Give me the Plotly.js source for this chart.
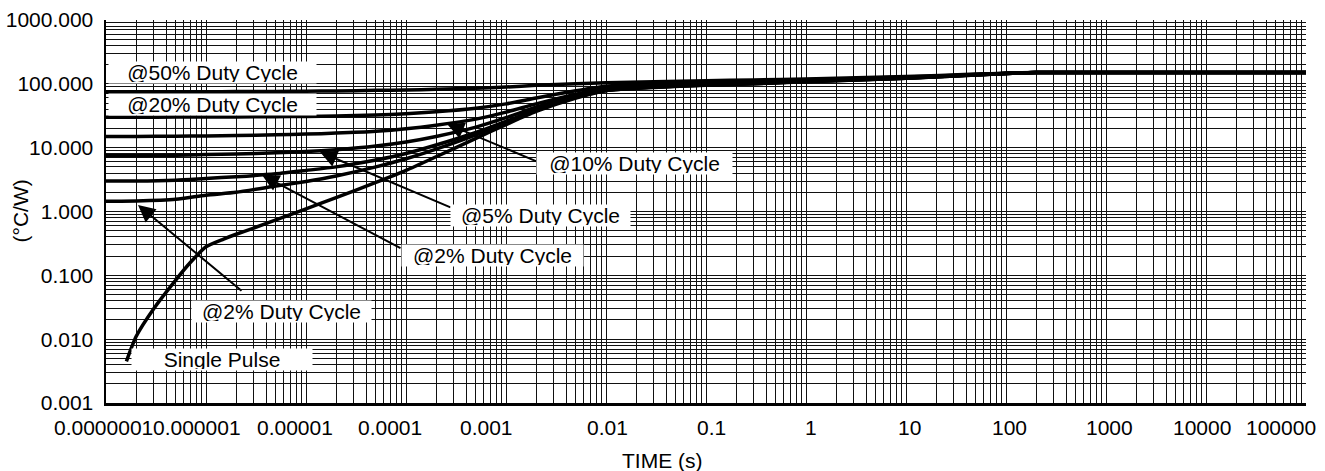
<!DOCTYPE html>
<html>
<head>
<meta charset="utf-8">
<script src="https://cdn.plot.ly/plotly-3.0.1.min.js"></script>
<style>html,body{margin:0;padding:0;background:#fff;}#chart{width:1325px;height:471px;}</style>
</head>
<body>
<div id="chart"></div>
<script>
// ---- data ----
const dutyTime = [1e-7, 2e-7, 5e-7, 1e-6, 2e-6, 5e-6, 1e-5, 2e-5, 5e-5, 1e-4, 2e-4, 5e-4, 1e-3, 2e-3, 5e-3, 1e-2, 3e-2, 1e-1, 3e-1, 1, 10, 50, 100, 200, 1e3, 1e4, 1e5];
const duty50 = [75, 75, 75, 75.2, 75.5, 76, 76.5, 77.5, 79, 80, 82, 85.5, 89, 95, 100, 104, 108, 112, 115, 119, 130, 142, 147, 150, 150, 150, 150];
const duty20 = [30, 30, 30.1, 30.2, 30.3, 30.6, 30.9, 31.4, 32.4, 34, 36.5, 41.5, 48.5, 60, 78, 92, 100, 106, 110, 116, 127.5, 140, 146, 150, 150, 150, 150];
const duty10 = [15, 15, 15.1, 15.3, 15.5, 15.9, 16.3, 16.9, 18.1, 19.8, 22.5, 28, 36, 48.5, 69, 85, 94, 100.5, 105, 112, 125, 139, 145.5, 150, 150, 150, 150];
const duty5 = [7.5, 7.5, 7.6, 7.8, 7.95, 8.3, 8.7, 9.3, 10.6, 12.3, 15, 21, 29.5, 43, 64.5, 81.5, 91, 98, 102.5, 110, 123.5, 138.5, 145.3, 150, 150, 150, 150];
const duty2 = [3.0, 3.0, 3.1, 3.3, 3.5, 3.9, 4.4, 5.0, 6.4, 8.1, 11, 17.3, 25.8, 39.3, 62, 79.5, 89, 96, 101, 109, 122.6, 138.2, 145.1, 150, 150, 150, 150];
const duty1 = [1.45, 1.46, 1.55, 1.8, 2.0, 2.5, 2.95, 3.6, 5.0, 6.7, 9.5, 15.9, 24.6, 38.2, 61, 78.7, 88.6, 95.5, 100.5, 108.4, 122.3, 138.1, 145, 150, 150, 150, 150];
const singleTime = [1.6e-7, 2e-7, 3e-7, 5e-7, 7e-7, 1e-6, 1.5e-6, 2e-6, 3e-6, 5e-6, 1e-5, 2e-5, 5e-5, 1e-4, 2e-4, 5e-4, 1e-3, 2e-3, 5e-3, 1e-2, 3e-2, 1e-1, 3e-1, 1, 10, 50, 100, 200, 1e3, 1e4, 1e5];
const singlePulse = [0.0045, 0.011, 0.03, 0.085, 0.16, 0.28, 0.37, 0.44, 0.55, 0.74, 1.1, 1.65, 2.85, 4.4, 7.2, 14, 23, 37, 60, 78, 88, 95, 100, 108, 122, 138, 145, 150, 150, 150, 150];

const xTickVals = [1e-7, 1e-6, 1e-5, 1e-4, 1e-3, 1e-2, 1e-1, 1, 10, 100, 1000, 10000, 100000];
const xTickText = ['0.0000001', '0.000001', '0.00001', '0.0001', '0.001', '0.01', '0.1', '1', '10', '100', '1000', '10000', '100000'];
const yTickVals = [0.001, 0.01, 0.1, 1, 10, 100, 1000];
const yTickText = ['0.001', '0.010', '0.100', '1.000', '10.000', '100.000', '1000.000'];

const labelTexts = ['@50% Duty Cycle', '@20% Duty Cycle', '@10% Duty Cycle', '@5% Duty Cycle', '@2% Duty Cycle', '@2% Duty Cycle', 'Single Pulse'];

// ---- styling / layout ----
const FONT = 'Liberation Sans, Arial, Helvetica, sans-serif';
const FS = 21;
const xTickShift = [-3, -9, -11, -16, -20, 1, 5, 5, 3, 3, 3, -4, -25];

const lineStyle = {color: '#000', width: 3.5};
const series = [
  {x: dutyTime, y: duty50},
  {x: dutyTime, y: duty20},
  {x: dutyTime, y: duty10},
  {x: dutyTime, y: duty5},
  {x: dutyTime, y: duty2},
  {x: dutyTime, y: duty1},
  {x: singleTime, y: singlePulse}
];
const traces = series.map(s => ({
  x: s.x, y: s.y, type: 'scatter', mode: 'lines',
  line: Object.assign({shape: 'spline', smoothing: 0.6}, lineStyle),
  hoverinfo: 'skip', showlegend: false
}));

// label boxes: [log x, log y, width]
const labelPos = [
  [-5.935, 2.170, 205],
  [-5.935, 1.684, 205],
  [-1.715, 0.752, 193],
  [-2.655, -0.063, 177],
  [-3.135, -0.689, 179],
  [-5.245, -1.559, 177],
  [-5.840, -2.311, 178]
];
// arrows: [head x, head y, tail x, tail y] in log units
const arrows = [
  [-3.59, 1.371, -2.68, 0.776],
  [-4.86, 0.932, -3.54, 0.055],
  [-5.44, 0.572, -4.04, -0.587],
  [-6.68, 0.102, -5.63, -1.261]
];

const annotations = [];
arrows.forEach(a => annotations.push({
  x: a[0], y: a[1], ax: a[2], ay: a[3], xref: 'x', yref: 'y', axref: 'x', ayref: 'y',
  text: '', showarrow: true, arrowhead: 2, arrowsize: 1.7, arrowwidth: 2, arrowcolor: '#000'
}));
labelTexts.forEach((t, i) => annotations.push({
  x: labelPos[i][0], y: labelPos[i][1], xref: 'x', yref: 'y', text: t, showarrow: false,
  bgcolor: '#fff', width: labelPos[i][2], height: 19, borderpad: 1,
  font: {family: FONT, size: FS, color: '#000'}
}));
xTickVals.forEach((v, i) => annotations.push({
  x: Math.log10(v), y: 0, xref: 'x', yref: 'paper', yanchor: 'top', yshift: -11,
  xshift: xTickShift[i], text: xTickText[i], showarrow: false,
  font: {family: FONT, size: FS, color: '#000'}
}));
annotations.push({
  x: 0.4633, y: 0, xref: 'paper', yref: 'paper', yanchor: 'middle', yshift: -57,
  text: 'TIME (s)', showarrow: false, font: {family: FONT, size: FS, color: '#000'}
});
annotations.push({
  x: 0, y: 0.5, xref: 'paper', yref: 'paper', xanchor: 'center', xshift: -86,
  text: '(°C/W)', textangle: -90, showarrow: false, font: {family: FONT, size: FS, color: '#000'}
});

const gridColor = '#111';
const layout = {
  width: 1325, height: 471,
  margin: {l: 106, r: 19, t: 20, b: 68, pad: 0},
  paper_bgcolor: '#fff', plot_bgcolor: '#fff',
  font: {family: FONT, size: FS, color: '#000'},
  showlegend: false,
  xaxis: {
    type: 'log', range: [-7, 5], tickvals: xTickVals, ticktext: xTickText,
    showticklabels: false, ticks: '',
    showgrid: true, gridcolor: gridColor, gridwidth: 1,
    minor: {dtick: 'D1', showgrid: true, gridcolor: gridColor, gridwidth: 1, ticks: ''},
    showline: true, linecolor: '#000', linewidth: 2.5, mirror: false, zeroline: false
  },
  yaxis: {
    type: 'log', range: [-3, 3], tickvals: yTickVals, ticktext: yTickText,
    ticks: '', ticklabelstandoff: 6, tickfont: {family: FONT, size: FS, color: '#000'},
    showgrid: true, gridcolor: gridColor, gridwidth: 1,
    minor: {dtick: 'D1', showgrid: true, gridcolor: gridColor, gridwidth: 1, ticks: ''},
    showline: true, linecolor: '#000', linewidth: 2.5, mirror: false, zeroline: false
  },
  annotations: annotations
};

Plotly.newPlot('chart', traces, layout, {staticPlot: true, displayModeBar: false});
</script>
</body>
</html>
